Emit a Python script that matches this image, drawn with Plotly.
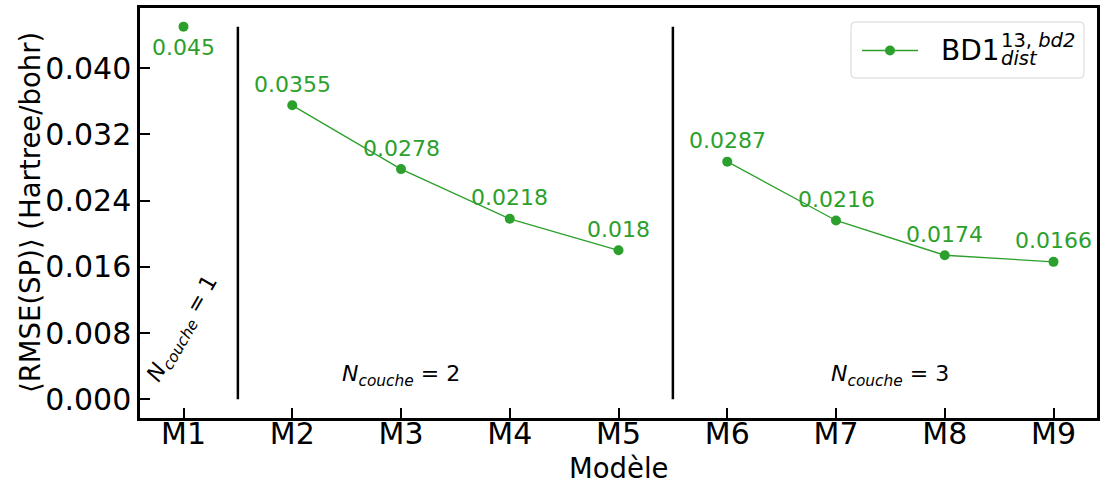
import plotly.graph_objects as go

# ---------------- data ----------------
models = ["M1", "M2", "M3", "M4", "M5", "M6", "M7", "M8", "M9"]
rmse = [0.045, 0.0355, 0.0278, 0.0218, 0.018, 0.0287, 0.0216, 0.0174, 0.0166]
value_labels = ["0.045", "0.0355", "0.0278", "0.0218", "0.018", "0.0287", "0.0216", "0.0174", "0.0166"]
n_couche = [1, 2, 2, 2, 2, 3, 3, 3, 3]
y_ticks = [0.000, 0.008, 0.016, 0.024, 0.032, 0.040]
separators = [0.5, 4.5]          # positions between layer groups
sep_top = 0.045
group_labels = {1: (0, 0.0084), 2: (2, 0.0029), 3: (6.5, 0.0029)}
series_name = "BD1"

GREEN = "#2ca02c"
FONT = "DejaVu Sans"

W, H = 1101, 484
L, R, T, B = 140, 4, 8, 66
PW, PH = W - L - R, H - T - B


def px(x):
    return (x - L) / PW


def py(y):
    return (H - B - y) / PH


fig = go.Figure()

xs = list(range(len(models)))
for g in sorted(set(n_couche)):
    idx = [i for i, c in enumerate(n_couche) if c == g]
    fig.add_trace(go.Scatter(
        x=[xs[i] for i in idx], y=[rmse[i] for i in idx],
        mode="lines+markers",
        line=dict(color=GREEN, width=1.3),
        marker=dict(color=GREEN, size=10),
        showlegend=False, hoverinfo="skip"))

# value labels
annotations = []
for i, (v, lab) in enumerate(zip(rmse, value_labels)):
    shift = -21 if i == 0 else 21
    annotations.append(dict(x=xs[i], y=v, text=lab, showarrow=False,
                            yshift=shift, xanchor="center", yanchor="middle",
                            font=dict(family=FONT, size=22, color=GREEN)))

# group labels
for g, (gx, gy) in group_labels.items():
    annotations.append(dict(
        x=gx, y=gy, showarrow=False, xanchor="center", yanchor="middle",
        text=f"<i>N</i><sub><i>couche</i></sub> = {g}",
        textangle=-60 if g == 1 else 0,
        font=dict(family=FONT, size=22, color="black")))

# axis titles
annotations.append(dict(x=px(30), y=0.5, xref="paper", yref="paper",
                        text="\u27e8RMSE(SP)\u27e9 (Hartree/bohr)", textangle=-90,
                        showarrow=False, xanchor="center", yanchor="middle",
                        font=dict(family=FONT, size=27.5, color="black")))
annotations.append(dict(x=0.5, y=py(468), xref="paper", yref="paper",
                        text="Modèle", showarrow=False,
                        xanchor="center", yanchor="middle",
                        font=dict(family=FONT, size=27.5, color="black")))

# manual legend
annotations.append(dict(x=px(939), y=py(51), xref="paper", yref="paper",
                        text=series_name, showarrow=False,
                        xanchor="left", yanchor="middle",
                        font=dict(family=FONT, size=28, color="black")))
annotations.append(dict(x=px(999), y=py(41), xref="paper", yref="paper",
                        text="13, <i>bd2</i>", showarrow=False,
                        xanchor="left", yanchor="middle",
                        font=dict(family=FONT, size=19.5, color="black")))
annotations.append(dict(x=px(999), y=py(58), xref="paper", yref="paper",
                        text="<i>dist</i>", showarrow=False,
                        xanchor="left", yanchor="middle",
                        font=dict(family=FONT, size=19.5, color="black")))

shapes = []
for s in separators:
    shapes.append(dict(type="line", x0=s, x1=s, y0=0, y1=sep_top,
                       xref="x", yref="y", line=dict(color="black", width=2.5)))

# legend box (rounded)
x0, x1, y0, y1, r = px(851), px(1084), py(78), py(22), 4
rx, ry = r / PW, r / PH
path = (f"M {x0+rx},{y0} L {x1-rx},{y0} Q {x1},{y0} {x1},{y0+ry} "
        f"L {x1},{y1-ry} Q {x1},{y1} {x1-rx},{y1} L {x0+rx},{y1} "
        f"Q {x0},{y1} {x0},{y1-ry} L {x0},{y0+ry} Q {x0},{y0} {x0+rx},{y0} Z")
shapes.append(dict(type="path", path=path, xref="paper", yref="paper",
                   fillcolor="rgba(255,255,255,0.8)", line=dict(color="#d6d6d6", width=1)))
shapes.append(dict(type="line", xref="paper", yref="paper",
                   x0=px(862), x1=px(918), y0=py(50.5), y1=py(50.5),
                   line=dict(color=GREEN, width=1.3)))
shapes.append(dict(type="circle", xref="paper", yref="paper",
                   x0=px(885), x1=px(895), y0=py(55.5), y1=py(45.5),
                   fillcolor=GREEN, line=dict(color=GREEN, width=0)))

axis_common = dict(showline=True, linecolor="black", linewidth=2.5, mirror=True,
                   ticks="inside", ticklen=10, tickwidth=2, tickcolor="black",
                   showgrid=False, zeroline=False, automargin=False,
                   tickfont=dict(family=FONT, size=30, color="black"))

fig.update_layout(
    width=W, height=H,
    margin=dict(l=L, r=R, t=T, b=B, autoexpand=False),
    paper_bgcolor="white", plot_bgcolor="white",
    xaxis=dict(range=[-0.4, 8.4], tickvals=xs, ticktext=models,
               ticklabelstandoff=-13, **axis_common),
    yaxis=dict(range=[-0.00225, 0.04725], tickvals=y_ticks,
               ticktext=[f"{t:.3f}" for t in y_ticks], **axis_common),
    annotations=annotations, shapes=shapes, showlegend=False,
)

fig.write_html("out.html", config={"displayModeBar": False},
               post_script="document.body.style.margin='0';document.body.style.overflow='hidden';")
